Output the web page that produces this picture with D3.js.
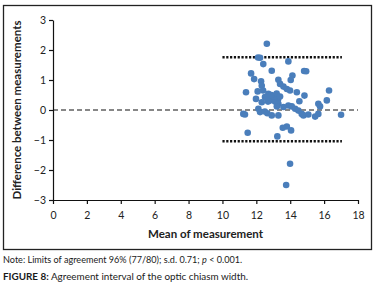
<!DOCTYPE html>
<html>
<head>
<meta charset="utf-8">
<script src="https://cdn.jsdelivr.net/npm/d3@7"></script>
<style>
  body { margin: 0; background: #fff; }
  svg { display: block; }
</style>
</head>
<body>
<div id="chart"></div>
<script>
// mean of the two measurements (x) and their difference (y)
const meanVals = [12.62, 12.10, 12.22, 13.89, 12.41, 12.91, 14.82, 14.94, 11.69, 11.87,
  14.13, 14.03, 12.28, 13.30, 12.32, 13.40, 13.60, 16.29, 11.39, 12.08,
  12.71, 13.80, 13.99, 14.39, 14.84, 11.98, 12.51, 12.99, 13.16, 12.81,
  13.28, 12.69, 13.10, 13.30, 12.32, 14.54, 16.16, 15.66, 15.76, 13.89,
  14.09, 13.21, 12.12, 14.29, 14.48, 12.22, 11.23, 11.33, 12.65, 12.91,
  13.30, 14.68, 14.78, 15.07, 15.47, 15.66, 17.00, 13.80, 13.56, 14.05,
  11.49, 13.24, 13.99, 13.76, 13.05, 12.90, 13.20, 12.60, 13.40, 12.40,
  12.50, 13.60];
const diffVals = [2.21, 1.75, 1.74, 1.62, 1.53, 1.31, 1.30, 1.29, 1.22, 1.03,
  1.15, 1.00, 0.96, 1.01, 0.81, 0.87, 0.78, 0.65, 0.59, 0.62,
  0.54, 0.70, 0.65, 0.59, 0.48, 0.37, 0.43, 0.38, 0.42, 0.32,
  0.35, 0.28, 0.28, 0.21, 0.26, 0.29, 0.32, 0.21, 0.12, 0.15,
  0.12, 0.12, 0.04, 0.04, -0.02, -0.07, -0.13, -0.15, -0.11, -0.18,
  -0.18, -0.13, -0.18, -0.15, -0.22, -0.13, -0.16, -0.55, -0.59, -0.68,
  -0.76, -0.88, -1.79, -2.50, 0.45, 0.50, 0.55, 0.40, 0.45, 0.65,
  -0.05, 0.10];

const upperLimit = 1.76;
const lowerLimit = -1.04;
const limitRange = [10, 17.05];

const xTicks = [0, 2, 4, 6, 8, 10, 12, 14, 16, 18];
const yTicks = [-3, -2, -1, 0, 1, 2, 3];

const points = meanVals.map((m, i) => ({ x: m, y: diffVals[i] }));

const width = 377, height = 286;
const font = "Lato, 'Open Sans', sans-serif";

const svg = d3.select("#chart").append("svg")
  .attr("width", width)
  .attr("height", height)
  .attr("font-family", font);

// outer frame
svg.append("rect")
  .attr("x", 3.5).attr("y", 5.5)
  .attr("width", 368).attr("height", 244)
  .attr("fill", "none")
  .attr("stroke", "#222")
  .attr("stroke-width", 1.3);

const x = d3.scaleLinear().domain([0, 18]).range([53, 358]);
const y = d3.scaleLinear().domain([-3, 3]).range([200, 20]);

const fmt = d => d < 0 ? "\u2212" + Math.abs(d) : String(d);

const xAxis = svg.append("g")
  .attr("transform", `translate(0,${y(-3)})`)
  .call(d3.axisBottom(x).tickValues(xTicks).tickSize(4).tickSizeOuter(0).tickFormat(fmt));

const yAxis = svg.append("g")
  .attr("transform", `translate(${x(0)},0)`)
  .call(d3.axisLeft(y).tickValues(yTicks).tickSize(4).tickSizeOuter(0).tickFormat(fmt));

[xAxis, yAxis].forEach(g => {
  g.select(".domain").attr("stroke", "#111").attr("stroke-width", 1.2);
  g.selectAll(".tick line").attr("stroke", "#111").attr("stroke-width", 1.2);
  g.selectAll(".tick text")
    .attr("font-family", font)
    .attr("font-size", 10.5)
    .attr("fill", "#222");
});
xAxis.selectAll(".tick text").attr("dy", "1.1em");

// zero line
svg.append("line")
  .attr("x1", x(0)).attr("x2", x(18))
  .attr("y1", y(0)).attr("y2", y(0))
  .attr("stroke", "#111")
  .attr("stroke-width", 1.1)
  .attr("stroke-dasharray", "5,3");

// limits of agreement
[upperLimit, lowerLimit].forEach(v => {
  svg.append("line")
    .attr("x1", x(limitRange[0])).attr("x2", x(limitRange[1]))
    .attr("y1", y(v)).attr("y2", y(v))
    .attr("stroke", "#111")
    .attr("stroke-width", 2.4)
    .attr("stroke-dasharray", "2.2,1.6");
});

// points
svg.append("g")
  .selectAll("circle")
  .data(points)
  .join("circle")
  .attr("cx", d => x(d.x))
  .attr("cy", d => y(d.y))
  .attr("r", 3.3)
  .attr("fill", "#4a7ebb");

// axis titles
svg.append("text")
  .attr("x", (x(0) + x(18)) / 2)
  .attr("y", 238)
  .attr("text-anchor", "middle")
  .attr("font-size", 11.5)
  .attr("font-weight", "bold")
  .attr("fill", "#222")
  .text("Mean of measurement");

svg.append("text")
  .attr("transform", `translate(21,${(y(3) + y(-3)) / 2}) rotate(-90)`)
  .attr("text-anchor", "middle")
  .attr("font-size", 11.5)
  .attr("font-weight", "bold")
  .attr("fill", "#222")
  .text("Difference between measurements");

// captions
const note = svg.append("text")
  .attr("x", 3).attr("y", 263)
  .attr("font-size", 9.1)
  .attr("fill", "#1a1a1a");
note.append("tspan").text("Note: Limits of agreement 96% (77/80); s.d. 0.71; ");
note.append("tspan").attr("font-style", "italic").text("p");
note.append("tspan").text(" < 0.001.");

const cap = svg.append("text")
  .attr("x", 3).attr("y", 280)
  .attr("font-size", 9.9)
  .attr("fill", "#1a1a1a");
cap.append("tspan").attr("font-weight", "bold").text("FIGURE 8:");
cap.append("tspan").text(" Agreement interval of the optic chiasm width.");
</script>
</body>
</html>
